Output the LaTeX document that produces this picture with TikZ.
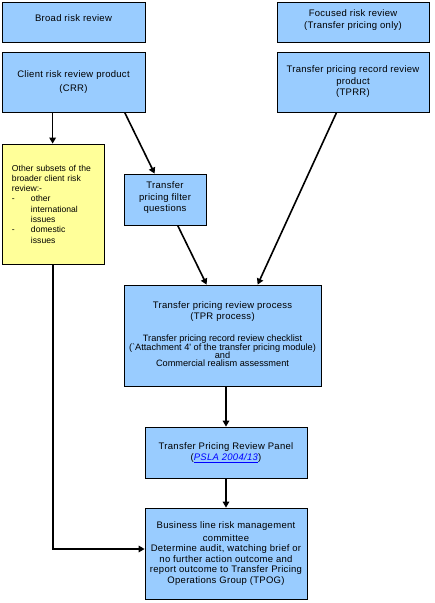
\documentclass[tikz,border=0pt]{standalone}
\usepackage{fontspec}
\setmainfont[LetterSpace=3]{Liberation Sans}
\newfontfamily\plainfont{Liberation Sans}
\newcommand{\ckfont}{\plainfont\fontsize{9.2}{11.5}\selectfont}
\usetikzlibrary{arrows.meta}
\definecolor{boxblue}{HTML}{99CCFF}
\definecolor{boxyellow}{HTML}{FFFF99}
\definecolor{linkblue}{HTML}{0000FF}
\tikzset{
  bluebox/.style={draw=black, line width=0.75pt, fill=boxblue, inner sep=0pt, align=center,
    font=\fontsize{9.5}{11.5}\selectfont},
  yellowbox/.style={draw=black, line width=0.75pt, fill=boxyellow, inner xsep=10pt, inner ysep=0pt, align=left,
    font=\plainfont\fontsize{8.6}{10.3}\selectfont},
  conn/.style={line width=1.6pt, -{Triangle[length=6pt,width=6.5pt]}}
}
\begin{document}
\begin{tikzpicture}[x=1pt,y=-1pt]
\useasboundingbox (0,0) rectangle (435,603);
\node[bluebox, minimum width=143pt, minimum height=40pt] (broad) at (73.5,22) {Broad risk review\\[-4pt]};
\node[bluebox, minimum width=152pt, minimum height=40pt] (focused) at (353,22) {Focused risk review\\(Transfer pricing only)\\[-6pt]};
\node[bluebox, minimum width=143pt, minimum height=60pt] (crr) at (73.5,82) {Client risk review product\\[2pt](CRR)};
\node[bluebox, minimum width=152pt, minimum height=60pt] (tprr) at (353,82) {Transfer pricing record review\\product\\(TPRR)\\[-9pt]};
\node[yellowbox, minimum width=102pt, minimum height=120pt, text width=82pt] (yellow) at (53,204)
  {Other subsets of the\\broader client risk\\review:-\\
   \makebox[19pt][l]{-}other\\ \hspace*{19pt}international\\ \hspace*{19pt}issues\\
   \makebox[19pt][l]{-}domestic\\ \hspace*{19pt}issues\\[7pt]};
\node[bluebox, minimum width=82pt, minimum height=51pt] (filter) at (165,199.5) {Transfer\\pricing filter\\questions\\[-6pt]};
\node[bluebox, minimum width=197pt, minimum height=101pt] (tpr) at (222.5,335.5)
  {Transfer pricing review process\\[-1pt](TPR process)\\[11pt]
   \ckfont Transfer pricing record review checklist\\[-3.2pt]
   \ckfont (`Attachment 4' of the transfer pricing module)\\[-3.2pt]\ckfont and\\[-3.2pt]\ckfont Commercial realism assessment\\[-9pt]};
\node[bluebox, minimum width=162pt, minimum height=51pt] (panel) at (226,452.5)
  {Transfer Pricing Review Panel\\(\textcolor{linkblue}{\underline{\textit{PSLA 2004/13}}})};
\node[bluebox, minimum width=162pt, minimum height=91pt, font=\fontsize{9.5}{10.6}\selectfont] (business) at (226,553.5)
  {Business line risk management\\[2pt]committee\\Determine audit, watching brief or\\no further action outcome and\\report outcome to Transfer Pricing\\Operations Group (TPOG)};
\draw[conn] ([xshift=51pt]crr.south west) -- ([xshift=51pt]yellow.north west);
\draw[conn] ([xshift=123pt]crr.south west) -- ([xshift=31pt]filter.north west);
\draw[conn] ([xshift=54pt]filter.south west) -- ([xshift=83pt]tpr.north west);
\draw[conn] ([xshift=60pt]tprr.south west) -- ([xshift=134pt]tpr.north west);
\draw[conn] (panel.north |- tpr.south) -- (panel.north);
\draw[conn] (panel.south) -- (business.north);
\draw[conn] (yellow.south) |- ([yshift=4.5pt]business.west);
\end{tikzpicture}
\end{document}
